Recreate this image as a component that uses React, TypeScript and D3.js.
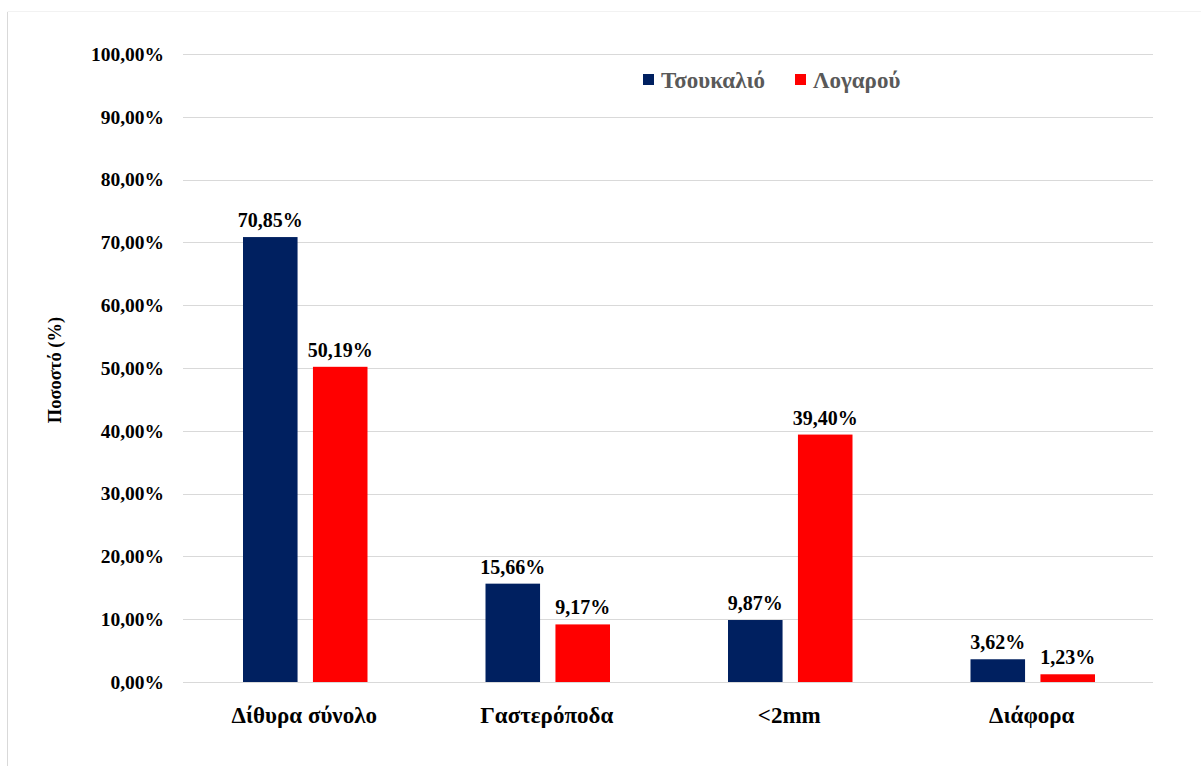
import React, { useEffect, useRef } from 'react';
import * as d3 from 'd3';

const categories = ['Δίθυρα σύνολο', 'Γαστερόποδα', '<2mm', 'Διάφορα'];
const seriesNames = ['Τσουκαλιό', 'Λογαρού'];
const tsoukalio = [70.85, 15.66, 9.87, 3.62];
const logarou = [50.19, 9.17, 39.4, 1.23];
const yTicks = [0, 10, 20, 30, 40, 50, 60, 70, 80, 90, 100];
const colors = ['#002060', '#ff0000'];

const fmt = (v: number) => v.toFixed(2).replace('.', ',') + '%';

const App = () => {
  const svgRef = useRef<SVGSVGElement>(null);
  const svgWidth = 1201;
  const svgHeight = 766;
  const margin = { top: 54, right: 48, bottom: 84, left: 183 };
  const width = svgWidth - margin.left - margin.right;
  const height = svgHeight - margin.top - margin.bottom;

  useEffect(() => {
    const svg = d3.select(svgRef.current);
    svg.selectAll('*').remove();
    const font = '"Liberation Serif", "Times New Roman", serif';

    // faint frame of the chart area
    svg.append('line')
      .attr('x1', 7.5).attr('x2', 7.5).attr('y1', 12).attr('y2', svgHeight)
      .attr('stroke', '#d9d9d9');
    svg.append('line')
      .attr('x1', 7.5).attr('x2', svgWidth).attr('y1', 11.5).attr('y2', 11.5)
      .attr('stroke', '#f2f2f2');

    const g = svg.append('g')
      .attr('transform', `translate(${margin.left},${margin.top})`);

    const x = d3.scaleBand()
      .domain(categories)
      .range([0, width]);

    const xSub = d3.scaleBand()
      .domain(seriesNames)
      .range([60, x.bandwidth() - 58])
      .paddingInner(0.22);

    const y = d3.scaleLinear()
      .domain([0, 100])
      .range([height, 0]);

    // gridlines
    g.selectAll('.grid')
      .data(yTicks)
      .enter().append('line')
      .attr('x1', 0)
      .attr('x2', width)
      .attr('y1', d => Math.round(y(d)) + 0.5)
      .attr('y2', d => Math.round(y(d)) + 0.5)
      .attr('stroke', '#d9d9d9')
      .attr('stroke-width', 1);

    // y tick labels
    g.selectAll('.ytick')
      .data(yTicks)
      .enter().append('text')
      .attr('x', -19)
      .attr('y', d => y(d))
      .attr('dy', '0.35em')
      .attr('text-anchor', 'end')
      .style('font-family', font)
      .attr('font-weight', 'bold')
      .attr('font-size', 19.5)
      .attr('fill', '#000')
      .text(d => fmt(d));

    // bars
    const groups = g.selectAll('.group')
      .data(categories)
      .enter().append('g')
      .attr('transform', d => `translate(${x(d)},0)`);

    const rows = (i: number) => [
      { key: seriesNames[0], value: tsoukalio[i], color: colors[0] },
      { key: seriesNames[1], value: logarou[i], color: colors[1] },
    ];

    groups.each(function (d, i) {
      const grp = d3.select(this);
      const items = rows(i);
      grp.selectAll('rect')
        .data(items)
        .enter().append('rect')
        .attr('x', e => xSub(e.key)!)
        .attr('width', xSub.bandwidth())
        .attr('y', e => y(e.value))
        .attr('height', e => height - y(e.value))
        .attr('fill', e => e.color);
      grp.selectAll('text.val')
        .data(items)
        .enter().append('text')
        .attr('x', e => xSub(e.key)! + xSub.bandwidth() / 2)
        .attr('y', e => y(e.value) - 10)
        .attr('text-anchor', 'middle')
        .style('font-family', font)
        .attr('font-weight', 'bold')
        .attr('font-size', 20)
        .attr('fill', '#000')
        .text(e => fmt(e.value));
    });

    // category labels
    g.selectAll('.xlabel')
      .data(categories)
      .enter().append('text')
      .attr('x', d => x(d)! + x.bandwidth() / 2)
      .attr('y', height + 41)
      .attr('text-anchor', 'middle')
      .style('font-family', font)
      .attr('font-weight', 'bold')
      .attr('font-size', 23)
      .attr('fill', '#000')
      .text(d => d);

    // y axis title
    svg.append('text')
      .attr('transform', `translate(61,${margin.top + 316}) rotate(-90)`)
      .attr('text-anchor', 'middle')
      .style('font-family', font)
      .attr('font-weight', 'bold')
      .attr('font-size', 18.5)
      .attr('fill', '#000')
      .text('Ποσοστό (%)');

    // legend
    const legend = svg.append('g').attr('transform', 'translate(643,74)');
    const legX = [0, 152];
    seriesNames.forEach((s, i) => {
      legend.append('rect')
        .attr('x', legX[i]).attr('y', 0)
        .attr('width', 11).attr('height', 11)
        .attr('fill', colors[i]);
      legend.append('text')
        .attr('x', legX[i] + 18).attr('y', 6)
        .attr('dy', '0.35em')
        .style('font-family', font)
        .attr('font-weight', 'bold')
        .attr('font-size', 23)
        .attr('fill', '#595959')
        .text(s);
    });
  }, []);

  return (
    <svg ref={svgRef} width={svgWidth} height={svgHeight}
      style={{ position: 'absolute', left: 0, top: 0, background: '#fff' }} />
  );
};

export default App;
